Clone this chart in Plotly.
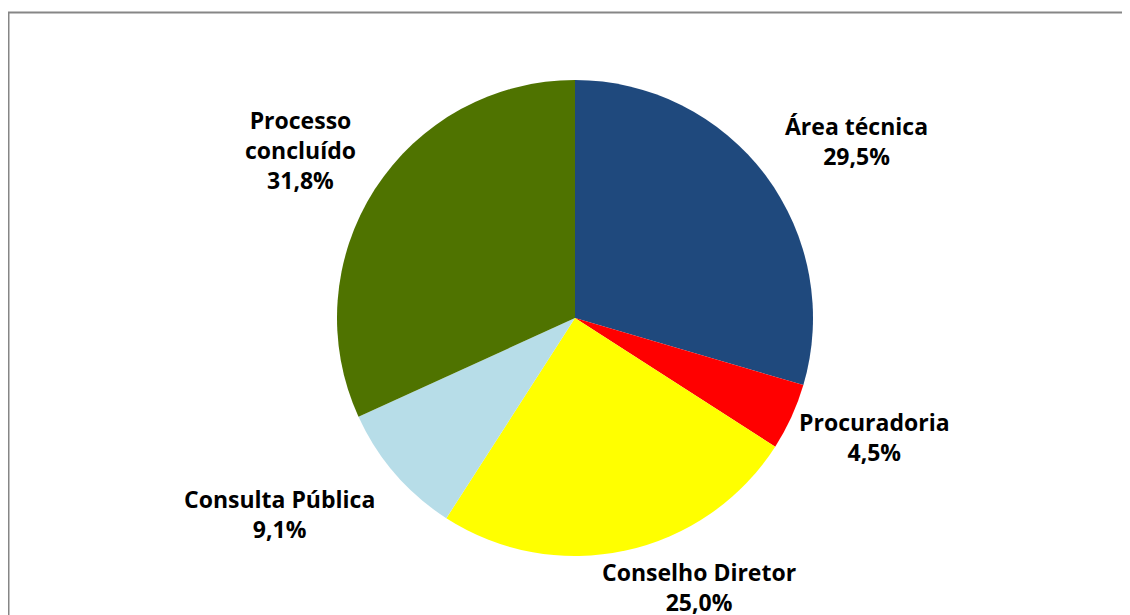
import math
import plotly.graph_objects as go

categories = ["Área técnica", "Procuradoria", "Conselho Diretor", "Consulta Pública", "Processo concluído"]
counts = [13, 2, 11, 4, 14]
label_text = ["Área técnica", "Procuradoria", "Conselho Diretor", "Consulta Pública", "Processo<br>concluído"]
colors = ["#1F497D", "#FF0000", "#FFFF00", "#B7DDE8", "#4F7300"]

# label nudges (pixels) relative to the angle-based anchor point
label_dx = [0, -15, 68.5, -1.5, 1.5]
label_dy = [-12, 22.5, 18.5, 7.5, -20.5]

W, H = 1130, 615
cx, cy, r = 567, 310, 238

fig = go.Figure(go.Pie(
    labels=categories, values=counts, sort=False, direction="clockwise", rotation=0,
    marker=dict(colors=colors, line=dict(width=0)), textinfo="none", hoverinfo="label+percent",
    domain=dict(x=[(cx - 300) / W, (cx + 300) / W], y=[(H - cy - r) / H, (H - cy + r) / H]),
    showlegend=False,
))

total = sum(counts)
cum = 0
R = r + 22
annotations = []
for i, v in enumerate(counts):
    mid = (cum + v / 2) / total * 2 * math.pi
    cum += v
    s, c = math.sin(mid), math.cos(mid)
    px = cx + R * s
    py = cy - R * c
    xa = "left" if s > 0.3 else ("right" if s < -0.3 else "center")
    ya = "bottom" if c > 0.3 else ("top" if c < -0.3 else "middle")
    pct = f"{v / total * 100:.1f}".replace(".", ",") + "%"
    annotations.append(dict(
        x=px / W, y=1 - py / H, xref="paper", yref="paper", xanchor=xa, yanchor=ya,
        text=f"<b>{label_text[i]}<br>{pct}</b>", showarrow=False, align="center",
        xshift=label_dx[i], yshift=label_dy[i],
        font=dict(family="Open Sans, Lato, sans-serif", size=23, color="#000000"),
    ))

fig.update_layout(
    width=W, height=H, margin=dict(l=0, r=0, t=0, b=0),
    paper_bgcolor="white", plot_bgcolor="white",
    annotations=annotations,
    shapes=[dict(type="rect", xref="paper", yref="paper",
                 x0=0.5 / W, x1=1.01, y0=-0.05, y1=1 - 4.5 / H,
                 line=dict(color="#868686", width=2), fillcolor="rgba(0,0,0,0)")],
)
fig.write_html("out.html")
